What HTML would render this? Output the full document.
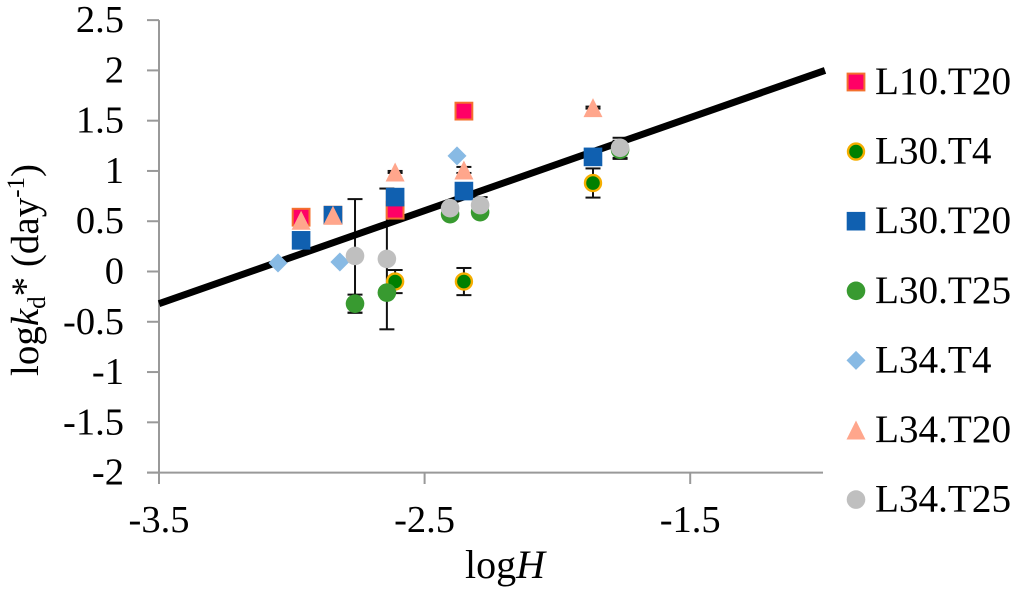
<!DOCTYPE html>
<html>
<head>
<meta charset="utf-8">
<title>logkd* vs logH</title>
<style>
html,body{margin:0;padding:0;background:#fff;width:1024px;height:592px;overflow:hidden}
svg{display:block}
text{font-family:"Liberation Serif",serif;fill:#000}
</style>
</head>
<body>
<svg id="chart" xmlns="http://www.w3.org/2000/svg" width="1024" height="592" viewBox="0 0 1024 592">
<g id="axes"></g>
<g id="errs"></g>
<g id="fit"></g>
<g id="marks"></g>
<g id="legend"></g>
<text x="505" y="578" font-size="40" text-anchor="middle">log<tspan font-style="italic">H</tspan></text>
<text transform="translate(38,376) rotate(-90)" font-size="39">log<tspan font-style="italic">k</tspan><tspan font-size="25" dy="7">d</tspan><tspan dy="-7">* (day</tspan><tspan font-size="25" dy="-14">-1</tspan><tspan dy="14">)</tspan></text>
</svg>
<script>
var xTickValues = [-3.5, -2.5, -1.5];
var xTickLabels = ['-3.5', '-2.5', '-1.5'];
var yTickValues = [2.5, 2, 1.5, 1, 0.5, 0, -0.5, -1, -1.5, -2];
var yTickLabels = ['2.5', '2', '1.5', '1', '0.5', '0', '-0.5', '-1', '-1.5', '-2'];
var fitX = [-3.5, -1];
var fitY = [-0.32, 2.0];

var l10t20X = [-2.965, -2.845, -2.611, -2.352];
var l10t20Y = [0.54, 0.56, 0.61, 1.595];
var l10t20E = [0, 0, 0, 0];

var l30t4X = [-2.611, -2.352, -1.866];
var l30t4Y = [-0.10, -0.10, 0.88];
var l30t4E = [0.115, 0.135, 0.145];

var l30t20X = [-2.965, -2.845, -2.611, -2.352, -1.866];
var l30t20Y = [0.31, 0.56, 0.74, 0.80, 1.14];
var l30t20E = [0, 0, 0, 0, 0];

var l30t25X = [-2.762, -2.642, -2.404, -2.291, -1.764];
var l30t25Y = [-0.32, -0.21, 0.57, 0.59, 1.21];
var l30t25E = [0.09, 0, 0, 0, 0.09];

var l34t4X = [-3.052, -2.819, -2.378];
var l34t4Y = [0.085, 0.095, 1.15];
var l34t4E = [0, 0, 0];

var l34t20X = [-2.965, -2.845, -2.611, -2.352, -1.866];
var l34t20Y = [0.51, 0.56, 0.99, 1.01, 1.63];
var l34t20E = [0, 0, 0.01, 0.03, 0.01];

var l34t25X = [-2.762, -2.642, -2.404, -2.291, -1.764];
var l34t25Y = [0.155, 0.125, 0.63, 0.66, 1.23];
var l34t25E = [0.565, 0.70, 0, 0.08, 0.10];

var seriesNames = ['L10.T20', 'L30.T4', 'L30.T20', 'L30.T25', 'L34.T4', 'L34.T20', 'L34.T25'];

var NS = 'http://www.w3.org/2000/svg';
function sx(v) { return 159 + (v + 3.5) * 265.6; }
function sy(v) { return 271.5 - v * 100.55; }
function make(tag, attrs, parent) {
  var el = document.createElementNS(NS, tag);
  for (var k in attrs) { el.setAttribute(k, attrs[k]); }
  parent.appendChild(el);
  return el;
}
function marker(kind, cx, cy, parent, name) {
  var el;
  if (kind === 'pink') {
    el = make('rect', {x: cx - 8.4, y: cy - 8.4, width: 16.8, height: 16.8, fill: '#ff0066', stroke: '#f4702e', 'stroke-width': 2}, parent);
  } else if (kind === 'ring') {
    el = make('circle', {cx: cx, cy: cy, r: 8, fill: '#008000', stroke: '#f5ae00', 'stroke-width': 2.4}, parent);
  } else if (kind === 'blue') {
    el = make('rect', {x: cx - 9.3, y: cy - 9.3, width: 18.6, height: 18.6, fill: '#1060b0'}, parent);
  } else if (kind === 'green') {
    el = make('circle', {cx: cx, cy: cy, r: 9.3, fill: '#389a30'}, parent);
  } else if (kind === 'diamond') {
    el = make('polygon', {points: (cx - 9.5) + ',' + cy + ' ' + cx + ',' + (cy - 9.5) + ' ' + (cx + 9.5) + ',' + cy + ' ' + cx + ',' + (cy + 9.5), fill: '#88bae4'}, parent);
  } else if (kind === 'tri') {
    el = make('polygon', {points: (cx - 9.5) + ',' + (cy + 9.5) + ' ' + cx + ',' + (cy - 9.5) + ' ' + (cx + 9.5) + ',' + (cy + 9.5), fill: '#ffa68c'}, parent);
  } else {
    el = make('circle', {cx: cx, cy: cy, r: 9.3, fill: '#bfbfbf'}, parent);
  }
  
  
  return el;
}

var axes = document.getElementById('axes');
var errs = document.getElementById('errs');
var fit = document.getElementById('fit');
var marks = document.getElementById('marks');
var legend = document.getElementById('legend');

var yAxis = make('line', {x1: sx(-3.5), x2: sx(-3.5), y1: sy(2.5), y2: 484, stroke: '#999', 'stroke-width': 2}, axes);


var xAxis = make('line', {x1: 147, x2: 823, y1: sy(-2), y2: sy(-2), stroke: '#999', 'stroke-width': 2}, axes);



yTickValues.forEach(function (v, i) {
  var t = make('line', {x1: 147, x2: 159, y1: sy(v), y2: sy(v), stroke: '#999', 'stroke-width': 2}, axes);
  
  
  var l = make('text', {x: 124, y: sy(v) + 12, 'font-size': 38.5, 'text-anchor': 'end'}, axes);
  
  
  l.textContent = yTickLabels[i];
});
xTickValues.forEach(function (v, i) {
  var t = make('line', {x1: sx(v), x2: sx(v), y1: sy(-2), y2: 484, stroke: '#999', 'stroke-width': 2}, axes);
  
  
  var l = make('text', {x: sx(v), y: 532, 'font-size': 38.5, 'text-anchor': 'middle'}, axes);
  
  
  l.textContent = xTickLabels[i];
});

var fitLine = make('line', {x1: sx(fitX[0]), y1: sy(fitY[0]), x2: sx(fitX[1]) + 2, y2: sy(fitY[1]), stroke: '#000', 'stroke-width': 7}, fit);



var kinds = ['pink', 'ring', 'blue', 'green', 'diamond', 'tri', 'grey'];
var allX = [l10t20X, l30t4X, l30t20X, l30t25X, l34t4X, l34t20X, l34t25X];
var allY = [l10t20Y, l30t4Y, l30t20Y, l30t25Y, l34t4Y, l34t20Y, l34t25Y];
var allE = [l10t20E, l30t4E, l30t20E, l30t25E, l34t4E, l34t20E, l34t25E];

kinds.forEach(function (kind, s) {
  allX[s].forEach(function (xv, i) {
    var e = allE[s][i];
    var cx = sx(xv);
    if (e > 0) {
      var top = sy(allY[s][i] + e);
      var bot = sy(allY[s][i] - e);
      var stem = make('line', {x1: cx, x2: cx, y1: top, y2: bot, stroke: '#111', 'stroke-width': 2}, errs);
      
      
      var capTop = make('line', {x1: cx - 7.5, x2: cx + 7.5, y1: top, y2: top, stroke: '#111', 'stroke-width': 2}, errs);
      
      
      var capBot = make('line', {x1: cx - 7.5, x2: cx + 7.5, y1: bot, y2: bot, stroke: '#111', 'stroke-width': 2}, errs);
      
      
    }
    marker(kind, cx, sy(allY[s][i]), marks, 'point-' + seriesNames[s].toLowerCase().replace('.', '-'));
  });
  var ly = 82 + s * 69.6;
  marker(kind, 856, ly, legend, 'legend-marker');
  var txt = make('text', {x: 875, y: ly + 12, 'font-size': 39.2}, legend);
  
  
  txt.textContent = seriesNames[s];
});
</script>
</body>
</html>
